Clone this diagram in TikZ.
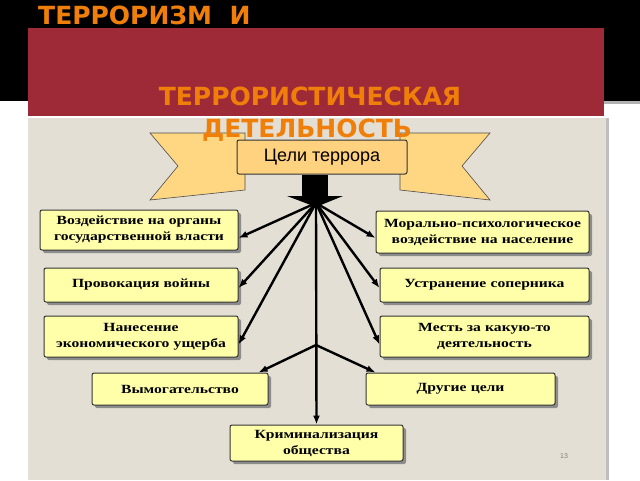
\documentclass[tikz,border=0pt]{standalone}
\usepackage{fontspec}
\usetikzlibrary{arrows.meta}
\setmainfont{Liberation Serif}
\newfontfamily\titlefont{DejaVu Sans}
\newfontfamily\boxfont[FakeStretch=1.25]{Liberation Serif}
\newfontfamily\labelfont{Liberation Sans}
\definecolor{panel}{RGB}{228,223,212}
\definecolor{banner}{RGB}{158,42,55}
\definecolor{ribbonc}{RGB}{255,214,130}
\definecolor{topc}{RGB}{255,210,127}
\definecolor{boxc}{RGB}{255,255,170}
\definecolor{ttl}{RGB}{240,127,10}
\begin{document}
\begin{tikzpicture}[x=1pt,y=-1pt,
  goal/.style={draw=black!80,line width=1pt,fill=boxc,rounded corners=2pt,
    font=\boxfont\bfseries\fontsize{12.5}{16}\selectfont,align=center,inner sep=0pt},
  shad/.style={fill=black!45,rounded corners=2pt},
  arr/.style={-{Latex[length=9pt,width=7pt]},line width=2.4pt},
  ttlf/.style={font=\titlefont\bfseries\fontsize{25}{27}\selectfont,text=ttl,inner sep=0pt}]
\useasboundingbox (0,0) rectangle (640,480);
\fill[black] (0,0) rectangle (640,101);
\fill[white] (0,101) rectangle (640,480);
\fill[gray!60] (600,101) rectangle (640,104);
\fill[panel] (28,118) rectangle (606,480);
\fill[gray!50] (606,118) rectangle (609,480);
\fill[banner] (28,28) rectangle (604,116);
% ribbon
\filldraw[fill=ribbonc,draw=black!70,line width=0.6pt]
  (150,133) -- (245,133) -- (245,190) -- (150,200) -- (178,166) -- cycle;
\filldraw[fill=ribbonc,draw=black!70,line width=0.6pt]
  (490,133) -- (400,133) -- (400,190) -- (490,200) -- (462,166) -- cycle;
\node[draw=black!80,line width=1pt,fill=topc,rounded corners=2pt,
  minimum width=170pt,minimum height=34pt,font=\labelfont\fontsize{18}{20}\selectfont] (top) at (322,157) {Цели террора};
% big arrow
\fill[black] (302,175) rectangle (328,196);
\fill[black] (287,196) -- (343,196) -- (316,207) -- cycle;
\coordinate (o) at (316,203);
\coordinate (br) at (316,345);
% boxes
\newcommand\gbox[6]{%
  \fill[shad] (#2+3,#3+3) rectangle (#4+3,#5+3);
  \node[goal,minimum width=#4-#2,minimum height=#5-#3,text width=#4-#2-4] (#1) at ({(#2+#4)/2},{(#3+#5)/2}) {#6};}
\gbox{l1}{40}{210}{238}{250}{Воздействие на органы\\государственной власти}
\gbox{r1}{376}{211}{589}{253}{Морально-психологическое\\воздействие на население}
\gbox{l2}{44}{268}{238}{302}{Провокация войны}
\gbox{r2}{380}{268}{589}{302}{Устранение соперника}
\gbox{l3}{44}{316}{238}{357}{Нанесение\\экономического ущерба}
\gbox{r3}{380}{316}{589}{357}{Месть за какую-то\\деятельность}
\gbox{l4}{92}{373}{268}{405}{Вымогательство}
\gbox{r4}{366}{373}{555}{405}{Другие цели}
\gbox{bt}{230}{425}{403}{461}{Криминализация\\общества}
% arrows
\draw[arr] (o) -- ([yshift=-8pt]l1.east);
\draw[arr] (o) -- ([yshift=-6pt]r1.west);
\draw[arr] (o) -- ([yshift=-3pt]l2.east);
\draw[arr] (o) -- ([yshift=-3pt]r2.west);
\draw[arr] (o) -- ([yshift=-8pt]l3.east);
\draw[arr] (o) -- ([yshift=-8pt]r3.west);
\draw[arr] (o) -- (bt.north);
\draw[arr] (br) -- ([xshift=-10pt]l4.north east);
\draw[arr] (br) -- ([xshift=10pt]r4.north west);
\node[font=\labelfont\fontsize{7}{8}\selectfont,text=gray] (pg) at (564,456) {13};
% titles
\node[anchor=west,ttlf] (t1) at (38,15) {ТЕРРОРИЗМ\ \ И};
\node[ttlf] (t2) at (310,96) {ТЕРРОРИСТИЧЕСКАЯ};
\node[ttlf] (t3) at (307,130) {ДЕТЕЛЬНОСТЬ};
\end{tikzpicture}
\end{document}
